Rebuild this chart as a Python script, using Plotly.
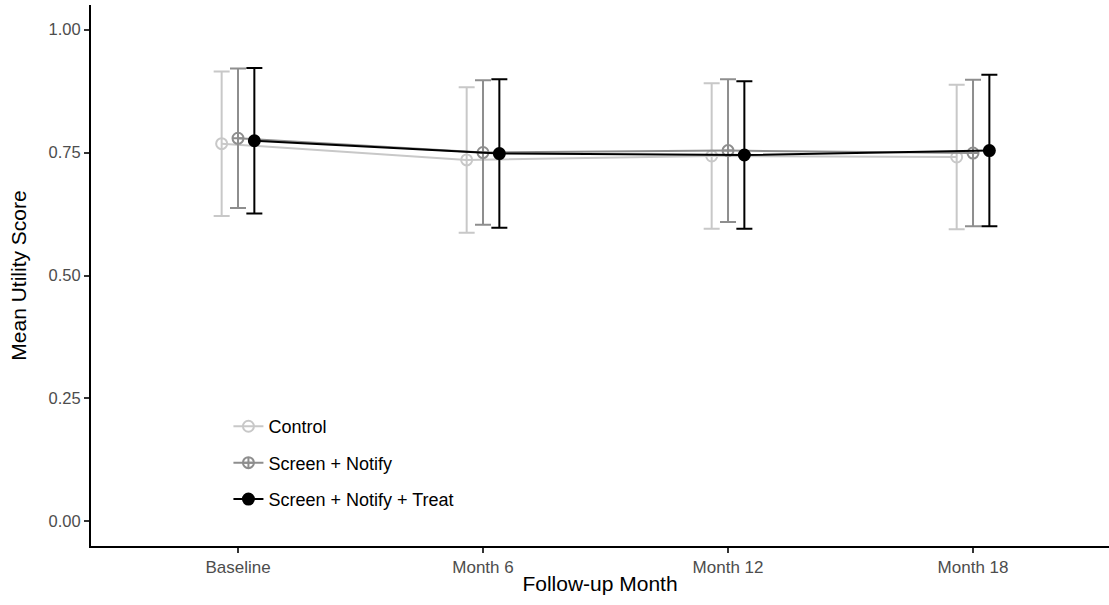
import plotly.graph_objects as go

months = ["Baseline", "Month 6", "Month 12", "Month 18"]
groups = ["Control", "Screen + Notify", "Screen + Notify + Treat"]

control_mean = [0.768, 0.735, 0.743, 0.741]
control_sd = [0.147, 0.148, 0.148, 0.147]
notify_mean = [0.779, 0.750, 0.754, 0.749]
notify_sd = [0.142, 0.147, 0.145, 0.149]
treat_mean = [0.774, 0.748, 0.745, 0.754]
treat_sd = [0.148, 0.151, 0.150, 0.154]

means = [control_mean, notify_mean, treat_mean]
sds = [control_sd, notify_sd, treat_sd]
colors = ["#c8c8c8", "#8e8e8e", "#000000"]
symbols = ["circle-open", "circle-cross-open", "circle"]
dodge = [-0.0667, 0.0, 0.0667]

fig = go.Figure()
base_x = list(range(1, len(months) + 1))
for i, g in enumerate(groups):
    xs = [b + dodge[i] for b in base_x]
    fig.add_trace(go.Scatter(
        x=xs, y=means[i], name=g, mode="lines+markers",
        legendgroup=g,
        line=dict(color=colors[i], width=2),
        marker=dict(symbol=symbols[i], size=11, color=colors[i],
                    line=dict(color=colors[i], width=2)),
        error_y=dict(type="data", array=sds[i], visible=True,
                     color=colors[i], thickness=2, width=8),
    ))

fig.update_layout(
    width=1109, height=605,
    margin=dict(l=91, r=0, t=5, b=59),
    plot_bgcolor="white", paper_bgcolor="white",
    font=dict(family="Liberation Sans, Arial, sans-serif", color="#000000"),
    showlegend=True,
    legend=dict(x=0.135, y=0.255, xanchor="left", yanchor="top",
                bgcolor="rgba(0,0,0,0)", font=dict(size=18, color="#000000"),
                tracegroupgap=10, itemwidth=30),
)
fig.update_xaxes(
    range=[0.4, 4.555], tickvals=base_x, ticktext=months,
    showline=True, linecolor="black", linewidth=2, automargin=False,
    ticks="outside", ticklen=5, tickcolor="#333333", tickwidth=1.5,
    tickfont=dict(size=17, color="#4d4d4d"), showgrid=False, zeroline=False,
    title=dict(text="Follow-up Month", font=dict(size=21, color="#000000"), standoff=0),
)
fig.update_yaxes(
    range=[-0.05, 1.05], tickvals=[0, 0.25, 0.5, 0.75, 1.0],
    ticktext=["0.00", "0.25", "0.50", "0.75", "1.00"],
    showline=True, linecolor="black", linewidth=2, automargin=False,
    ticks="outside", ticklen=5, tickcolor="#333333", tickwidth=1.5,
    tickfont=dict(size=16.5, color="#4d4d4d"), showgrid=False, zeroline=False,
    title=dict(text="Mean Utility Score", font=dict(size=21, color="#000000"), standoff=16),
)

fig.write_html("out.html", config={"displayModeBar": False},
               post_script="document.body.style.margin='0';")
